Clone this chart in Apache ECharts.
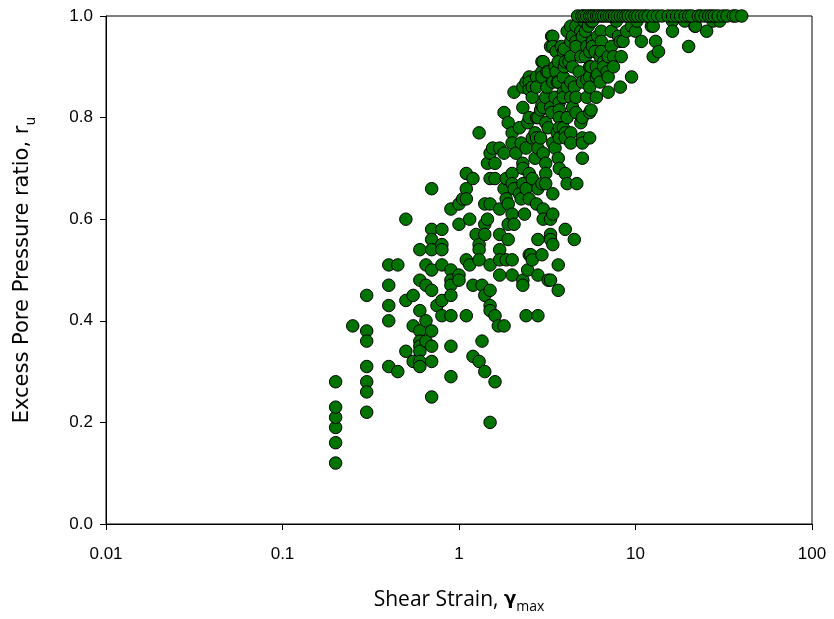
<!DOCTYPE html>
<html>
<head>
<meta charset="utf-8">
<script src="https://cdn.jsdelivr.net/npm/echarts@6/dist/echarts.min.js"></script>
<style>html,body{margin:0;padding:0;background:#fff}#c{width:834px;height:619px}</style>
</head>
<body>
<div id="c"></div>
<script>
// Tick labels
const xTickLabels = ['0.01', '0.1', '1', '10', '100'];
const yTicks = [0.0, 0.2, 0.4, 0.6, 0.8, 1.0];

// [shear strain (%), ru] pairs
const lowStrainPoints = [
  [0.2,0.12],[0.2,0.16],[0.2,0.19],[0.2,0.21],[0.2,0.23],[0.2,0.28],
  [0.25,0.39],
  [0.3,0.45],[0.3,0.38],[0.3,0.36],[0.3,0.31],[0.3,0.28],[0.3,0.26],[0.3,0.22],
  [0.4,0.51],[0.4,0.47],[0.4,0.43],[0.4,0.40],[0.4,0.31],
  [0.45,0.51],[0.45,0.30],
  [0.5,0.60],[0.5,0.44],[0.5,0.34],
  [0.55,0.45],[0.55,0.39],[0.55,0.32],
  [0.6,0.54],[0.6,0.48],[0.6,0.42],[0.6,0.38],[0.6,0.36],[0.6,0.35],[0.6,0.34],[0.6,0.32],[0.6,0.31],
  [0.65,0.51],[0.65,0.47],[0.65,0.40],[0.65,0.36],
  [0.7,0.66],[0.7,0.58],[0.7,0.56],[0.7,0.54],[0.7,0.50],[0.7,0.46],[0.7,0.38],[0.7,0.35],[0.7,0.32],[0.7,0.25],
  [0.75,0.43],
  [0.8,0.58],[0.8,0.55],[0.8,0.54],[0.8,0.51],[0.8,0.44],[0.8,0.41],
  [0.9,0.62],[0.9,0.50],[0.9,0.48],[0.9,0.47],[0.9,0.45],[0.9,0.41],[0.9,0.35],[0.9,0.29]
];
const midStrainPoints = [
  [1.0,0.63],[1.0,0.59],[1.0,0.49],[1.0,0.48],
  [1.05,0.64],
  [1.1,0.69],[1.1,0.66],[1.1,0.64],[1.1,0.52],[1.1,0.41],
  [1.15,0.60],[1.15,0.51],
  [1.2,0.68],[1.2,0.47],[1.2,0.33],
  [1.25,0.57],
  [1.3,0.77],[1.3,0.55],[1.3,0.54],[1.3,0.52],[1.3,0.32],
  [1.35,0.47],[1.35,0.36],
  [1.4,0.63],[1.4,0.59],[1.4,0.57],[1.4,0.45],[1.4,0.30],
  [1.45,0.71],[1.45,0.60],
  [1.5,0.73],[1.5,0.68],[1.5,0.63],[1.5,0.51],[1.5,0.46],[1.5,0.43],[1.5,0.42],[1.5,0.20],
  [1.55,0.74],
  [1.6,0.71],[1.6,0.68],[1.6,0.41],[1.6,0.28],
  [1.67,0.39],
  [1.7,0.74],[1.7,0.62],[1.7,0.57],[1.7,0.54],[1.7,0.52],[1.7,0.49],
  [1.8,0.81],[1.8,0.73],[1.8,0.66],[1.8,0.39],
  [1.85,0.68],[1.85,0.64],[1.85,0.52],
  [1.9,0.79],[1.9,0.63],[1.9,0.59],[1.9,0.56],
  [2.0,0.77],[2.0,0.75],[2.0,0.69],[2.0,0.67],[2.0,0.61],[2.0,0.52],[2.0,0.49],
  [2.05,0.85],[2.05,0.66],[2.05,0.59],
  [2.1,0.73],
  [2.2,0.78],[2.2,0.65],
  [2.25,0.75],[2.25,0.64],
  [2.3,0.86],[2.3,0.82],[2.3,0.71],[2.3,0.70],[2.3,0.67],[2.3,0.48],[2.3,0.47],
  [2.35,0.61],
  [2.4,0.87],[2.4,0.74],[2.4,0.66],[2.4,0.41],
  [2.45,0.79],[2.45,0.50],
  [2.5,0.88],[2.5,0.87],[2.5,0.855],[2.5,0.80],[2.5,0.69],[2.5,0.64],[2.5,0.53],
  [2.55,0.53],
  [2.6,0.86],[2.6,0.84],[2.6,0.76],[2.6,0.68],[2.6,0.52],
  [2.7,0.77],[2.7,0.72],
  [2.75,0.88],[2.75,0.86],[2.75,0.80],[2.75,0.76],[2.75,0.63],
  [2.8,0.80],[2.8,0.74],[2.8,0.66],[2.8,0.56],[2.8,0.49],[2.8,0.41],
  [2.9,0.815],[2.9,0.76],
  [2.95,0.91],[2.95,0.89],[2.95,0.88],[2.95,0.825],[2.95,0.67],[2.95,0.53]
];
const highStrainPoints = [
  [3.0,0.91],[3.0,0.82],[3.0,0.73],[3.0,0.62],[3.0,0.60],
  [3.1,0.84],[3.1,0.79],[3.1,0.71],[3.1,0.69],[3.1,0.67],
  [3.15,0.89],[3.15,0.86],
  [3.2,0.89],[3.2,0.78],[3.2,0.48],
  [3.3,0.94],[3.3,0.82],[3.3,0.60],[3.3,0.57],[3.3,0.56],[3.3,0.48],
  [3.35,0.96],[3.35,0.81],
  [3.4,0.96],[3.4,0.94],[3.4,0.87],[3.4,0.75],[3.4,0.65],[3.4,0.61],[3.4,0.55],
  [3.5,0.90],[3.5,0.84],[3.5,0.74],
  [3.55,0.93],[3.55,0.89],
  [3.6,0.87],[3.6,0.77],
  [3.65,0.91],[3.65,0.87],[3.65,0.72],[3.65,0.51],[3.65,0.46],
  [3.7,0.83],[3.7,0.815],[3.7,0.80],[3.7,0.78],[3.7,0.76],[3.7,0.70],
  [3.8,0.94],
  [3.9,0.93],[3.9,0.88],[3.9,0.85],[3.9,0.84],[3.9,0.78],
  [3.95,0.935],[3.95,0.90],
  [4.0,0.91],[4.0,0.77],[4.0,0.76],[4.0,0.69],[4.0,0.58],
  [4.1,0.97],[4.1,0.86],[4.1,0.80],[4.1,0.67],
  [4.2,0.91],
  [4.3,0.98],[4.3,0.95],[4.3,0.92],[4.3,0.87],[4.3,0.84],[4.3,0.77],[4.3,0.75],
  [4.4,0.96],[4.4,0.90],[4.4,0.82],
  [4.5,0.86],[4.5,0.56],
  [4.6,0.98],[4.6,0.95],[4.6,0.94],[4.6,0.84],[4.6,0.81],
  [4.65,0.67],
  [4.8,0.89],
  [4.9,0.97],[4.9,0.92],[4.9,0.79],
  [5.0,0.96],[5.0,0.87],[5.0,0.80],[5.0,0.76],[5.0,0.75],[5.0,0.72],
  [5.1,0.99],
  [5.2,0.97],[5.2,0.92],
  [5.3,0.94],[5.3,0.875],[5.3,0.84],
  [5.4,0.98],
  [5.5,0.93],[5.5,0.90],[5.5,0.88],[5.5,0.86],[5.5,0.81],[5.5,0.76],
  [5.6,0.99],[5.6,0.90],[5.6,0.815],
  [5.7,0.99],[5.7,0.95],[5.7,0.94],
  [5.9,0.93],
  [6.0,0.90],[6.0,0.88],[6.0,0.84],
  [6.1,0.96],[6.1,0.885],
  [6.3,0.92],[6.3,0.87],
  [6.4,0.97],[6.4,0.95],[6.4,0.93],
  [6.6,0.91],[6.6,0.90],
  [6.9,0.89],
  [7.0,0.92],[7.0,0.88],[7.0,0.85],
  [7.3,0.97],[7.3,0.94],
  [7.5,0.92],[7.5,0.90],
  [7.8,0.99],
  [8.0,0.96],
  [8.2,0.95],[8.2,0.86],
  [8.3,0.92],
  [8.5,0.95],
  [8.9,0.97],
  [9.5,0.98],[9.5,0.88],
  [10.0,0.97],
  [10.2,0.99],
  [10.8,0.95],
  [12.3,0.98],
  [12.6,0.98],[12.6,0.92],
  [13.0,0.95],
  [13.5,0.93],
  [16.2,0.99],[16.2,0.97],
  [19.0,0.99],
  [20.0,0.94],
  [21.7,0.98],[21.9,0.98],
  [25.3,0.97],
  [27.5,0.99],
  [30.0,0.99]
];
// strains of the points that reached full liquefaction (ru = 1.0)
const saturatedStrains = [4.7,4.96,5.1,5.29,5.5,5.65,5.8,6.03,6.2,6.43,6.6,6.87,7.1,7.33,7.6,7.88,8.2,8.53,8.8,9.1,9.5,9.93,10.3,10.8,11.3,11.8,12.6,13.3,14.1,15.3,16.2,17.1,18.0,19.1,20.0,20.8,22.7,23.5,24.8,26.0,27.0,28.0,29.4,31.4,33.0,35.8,37.0,40.0];
const saturatedRu = 1.0;

const allPoints = lowStrainPoints.concat(midStrainPoints, highStrainPoints, saturatedStrains.map(s => [s, saturatedRu]));

const chart = echarts.init(document.getElementById('c'), null, {renderer: 'canvas'});
const labelFont = 'Liberation Sans';
chart.setOption({
  animation: false,
  backgroundColor: '#ffffff',
  grid: {left: 106, right: 22, top: 16, bottom: 94, show: true, borderColor: '#000', borderWidth: 1, backgroundColor: 'transparent'},
  xAxis: {
    type: 'log', logBase: 10, min: 0.01, max: 100,
    axisLine: {show: true, lineStyle: {color: '#000', width: 1}},
    axisTick: {show: true, length: 6, inside: false, lineStyle: {color: '#000'}},
    minorTick: {show: false},
    splitLine: {show: false},
    axisLabel: {
      margin: 22, color: '#000', fontFamily: labelFont, fontSize: 17,
      formatter: function (v) {
        const i = Math.round(Math.log10(v)) + 2;
        return xTickLabels[i] !== undefined ? xTickLabels[i] : '';
      }
    },
    name: '{a|Shear Strain, }{g|γ}{s|max}',
    nameLocation: 'middle', nameGap: 66,
    nameTextStyle: {
      rich: {
        a: {fontFamily: 'Open Sans', fontSize: 21, color: '#000', verticalAlign: 'top', lineHeight: 24},
        g: {fontFamily: 'DejaVu Sans', fontWeight: 'bold', fontSize: 18, color: '#000', verticalAlign: 'top', lineHeight: 24},
        s: {fontFamily: 'Open Sans', fontSize: 14, color: '#000', verticalAlign: 'bottom', lineHeight: 16, padding: [14, 0, 0, 0]}
      }
    }
  },
  yAxis: {
    type: 'value', min: 0, max: 1, interval: 0.2,
    axisLine: {show: true, lineStyle: {color: '#000', width: 1}},
    axisTick: {show: true, length: 6, inside: false, lineStyle: {color: '#000'}},
    splitLine: {show: false},
    axisLabel: {
      margin: 13, color: '#000', fontFamily: labelFont, fontSize: 17,
      formatter: function (v) { return v.toFixed(1); }
    },
    name: '{a|Excess Pore Pressure ratio, r}{s|u}',
    nameLocation: 'middle', nameGap: 68, nameRotate: 90,
    nameTextStyle: {
      rich: {
        a: {fontFamily: 'DejaVu Sans', fontSize: 21, color: '#000', verticalAlign: 'top', lineHeight: 26},
        s: {fontFamily: 'DejaVu Sans', fontSize: 14, color: '#000', verticalAlign: 'bottom', lineHeight: 16, padding: [15, 0, 0, 0]}
      }
    }
  },
  series: [{
    type: 'scatter',
    data: allPoints,
    symbol: 'circle',
    symbolSize: 12.5,
    clip: false,
    itemStyle: {color: '#007300', borderColor: '#000', borderWidth: 1, opacity: 1}
  }]
});
</script>
</body>
</html>
